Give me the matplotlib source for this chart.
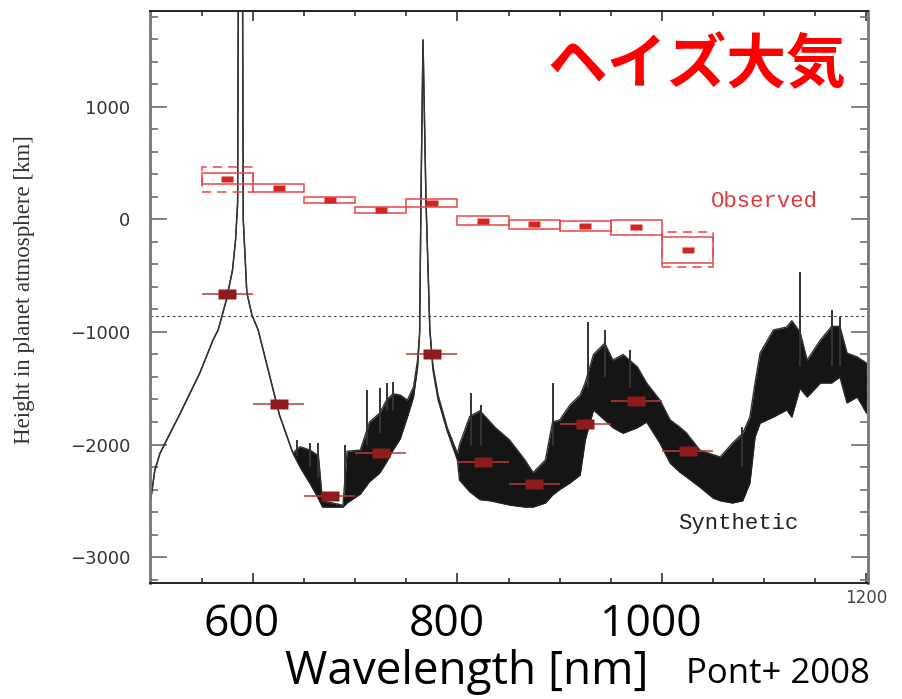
import numpy as np
import matplotlib
matplotlib.use("Agg")
import matplotlib.pyplot as plt
from matplotlib.ticker import MultipleLocator

# ** DADOS LIDOS DO GRAFICO **
# espectro sintetico: comprimento de onda [nm], borda inferior e superior [km]
espec_wl = [500, 504, 509, 529, 548, 561, 566, 574, 580, 583, 585, 586, 589.5, 590.5,
            594, 599, 605, 626, 639, 646, 656, 664, 668, 688, 692, 705, 714, 724,
            731, 737, 744, 751, 757, 761, 763, 764.3, 766.3, 769.2, 773, 776, 781,
            790, 800, 802, 812, 822, 832, 837, 851, 866, 874, 886, 893, 900, 910,
            920, 925, 933, 944, 952, 962, 976, 985, 998, 1008, 1018, 1024, 1037,
            1050, 1057, 1069, 1079, 1086, 1091, 1096, 1109, 1122, 1127, 1135, 1142,
            1155, 1166, 1174, 1181, 1191, 1200]
espec_lo = [-2490, -2230, -2080, -1720, -1365, -1070, -980, -715, -450, -180, 150, 3000, 3000, 0,
            -650, -850, -980, -1740, -2075, -2200, -2350, -2480, -2556, -2556, -2520, -2440, -2330, -2253,
            -2150, -2049, -1950, -1756, -1578, -1311, -1009, 173, 1596, 173, -982, -1337, -1600,
            -1880, -2140, -2316, -2420, -2490, -2500, -2510, -2538, -2556, -2556, -2520, -2449, -2400, -2342,
            -2271, -1960, -1693, -1782, -1850, -1900, -1850, -1800, -1987, -2165, -2250, -2289, -2378,
            -2476, -2500, -2520, -2500, -2342, -1933, -1810, -1756, -1693, -1756, -1500, -1578,
            -1453, -1453, -1400, -1630, -1578, -1720]
espec_hi = [-2490, -2230, -2080, -1720, -1365, -1070, -980, -715, -450, -180, 150, 3000, 3000, 0,
            -650, -850, -980, -1740, -2075, -2020, -2050, -2100, -2500, -2540, -2060, -2050, -1800, -1720,
            -1600, -1550, -1560, -1605, -1489, -1249, -1009, 173, 1596, 173, -982, -1300, -1560,
            -1850, -2080, -2000, -1750, -1700, -1800, -1850, -1960, -2138, -2250, -2138, -1800, -1782, -1649,
            -1560, -1450, -1200, -1100, -1249, -1200, -1311, -1453, -1605, -1782, -1850, -1898, -2049,
            -2090, -2111, -1987, -1900, -1756, -1453, -1187, -982, -956, -900, -1000, -1249,
            -1071, -950, -950, -1187, -1222, -1276]

# picos isolados do espectro
pico_wl = [643, 656, 664, 690, 712, 724, 731, 737, 813, 823, 893, 928, 944, 969, 1078, 1135, 1166, 1174]
pico_base = [-2100, -2200, -2300, -2400, -2000, -1900, -1700, -1700, -2000, -2000, -2000, -1500, -1400,
             -1500, -2200, -1300, -1300, -1300]
pico_topo = [-1960, -1990, -1990, -2000, -1516, -1500, -1453, -1444, -1542, -1650, -1453, -911, -982,
             -1160, -1844, -467, -805, -867]

# pontos observados (caixas) e sinteticos (binados)
bin_centro = [575, 625, 675, 725, 775, 825, 875, 925, 975, 1025]
bin_meia = 25
obs_val = [360, 280, 173, 84, 147, -13, -40, -58, -67, -271]
obs_lo = [313, 240, 145, 58, 111, -49, -84, -102, -138, -386]
obs_hi = [413, 313, 200, 111, 182, 31, -4, -13, -4, -156]
obs_sis_lo = [245, None, None, None, None, None, None, None, None, -422]
obs_sis_hi = [467, None, None, None, None, None, None, None, None, -111]
sint_val = [-662, -1640, -2458, -2076, -1196, -2155, -2351, -1818, -1613, -2058]

nivel_ref = -860
xticks_grandes = [600, 800, 1000]
yticks = [-3000, -2000, -1000, 0, 1000]
ytick_txt = ["\u22123000", "\u22122000", "\u22121000", "0", "1000"]

# ** FIGURA **
fig = plt.figure(figsize=(9.02, 6.99), dpi=100)
ax = fig.add_axes([150 / 902, 1 - 583 / 699, 718 / 902, 572 / 699])
ax.set_xlim(499.3, 1201.5)
ax.set_ylim(-3231, 1853)

# espectro
ax.fill_between(espec_wl, espec_lo, espec_hi, color="#151515", lw=0, zorder=2)
ax.plot(espec_wl, espec_lo, color="#222222", lw=1.0, zorder=2)
ax.plot(espec_wl, espec_hi, color="#333333", lw=1.0, zorder=2)
ax.vlines(pico_wl, pico_base, pico_topo, color="#333333", lw=1.4, zorder=2)

ax.axhline(nivel_ref, color="#444444", lw=0.8, ls=(0, (2.5, 2.5)), zorder=1)

# caixas observadas
cor_obs = "#e8474a"
for c, lo, hi, slo, shi in zip(bin_centro, obs_lo, obs_hi, obs_sis_lo, obs_sis_hi):
    ax.add_patch(plt.Rectangle((c - bin_meia, lo), 2 * bin_meia, hi - lo, fill=False,
                               ec=cor_obs, lw=1.1, zorder=3))
    if slo is not None:
        ax.add_patch(plt.Rectangle((c - bin_meia, slo), 2 * bin_meia, shi - slo, fill=False,
                                   ec=cor_obs, lw=1.1, ls=(0, (6, 4)), zorder=3))
ret = [(-1, -0.55), (1, -0.55), (1, 0.55), (-1, 0.55), (-1, -0.55)]
ax.plot(bin_centro, obs_val, ls="none", marker=ret, ms=9, color="#d42525", mec="none", zorder=4)

# pontos sinteticos binados
ax.errorbar(bin_centro, sint_val, xerr=bin_meia, fmt="none", ecolor="#b83a3a", elinewidth=1.1,
            capsize=0, zorder=4)
ax.plot(bin_centro, sint_val, ls="none", marker=ret, ms=13, color="#8e1c1c", mec="none", zorder=5)

# eixos
ax.xaxis.set_major_locator(MultipleLocator(200))
ax.xaxis.set_minor_locator(MultipleLocator(50))
ax.set_yticks(yticks)
ax.set_yticklabels(ytick_txt)
ax.yaxis.set_minor_locator(MultipleLocator(200))
ax.tick_params(axis="x", which="both", direction="in", top=True, labelbottom=False, colors="#333333")
ax.tick_params(axis="x", which="major", length=7, width=1.2)
ax.tick_params(axis="x", which="minor", length=3.5, width=1.2)
ax.tick_params(axis="y", which="both", direction="in", right=True, colors="#777777", width=1.3,
               labelcolor="#333333", labelsize=13, pad=14)
ax.tick_params(axis="y", which="major", length=12)
ax.tick_params(axis="y", which="minor", length=6)
for lado in ["left", "right"]:
    ax.spines[lado].set_color("#777777")
    ax.spines[lado].set_linewidth(2)
for lado in ["top", "bottom"]:
    ax.spines[lado].set_color("#222222")
    ax.spines[lado].set_linewidth(1.4)

for v in xticks_grandes:
    ax.annotate(str(v), xy=(v, 0), xycoords=("data", "axes fraction"), xytext=(-8, -30),
                textcoords="offset points", ha="center", va="center", fontsize=32,
                family="Open Sans", color="black")
ax.annotate("1200", xy=(1200, 0), xycoords=("data", "axes fraction"), xytext=(0, -11),
            textcoords="offset points", ha="center", va="center", fontsize=12, color="#444444")

ax.text(1100, 156, "Observed", color="#e03a3a", fontsize=16, family="Liberation Mono",
        ha="center", va="center")
ax.text(1075, -2706, "Synthetic", color="#222222", fontsize=16, family="Liberation Mono",
        ha="center", va="center")
ax.text(1034, 1364, "ヘイズ大気", color="#ff0000", fontsize=43, fontweight="bold",
        family=["Noto Sans CJK JP", "DejaVu Sans"], ha="center", va="center")

fig.text(25 / 902, 1 - 290 / 699, "Height in planet atmosphere [km]", rotation=90,
         family="Liberation Serif", fontsize=16.5, color="#333333", ha="center", va="center")
fig.text(467 / 902, 1 - 672 / 699, "Wavelength [nm]", family="Open Sans", fontsize=33,
         ha="center", va="center")
fig.text(686 / 902, 1 - 674 / 699, "Pont+ 2008", family="Open Sans", fontsize=25,
         ha="left", va="center")

fig.savefig("out.png", dpi=100)
